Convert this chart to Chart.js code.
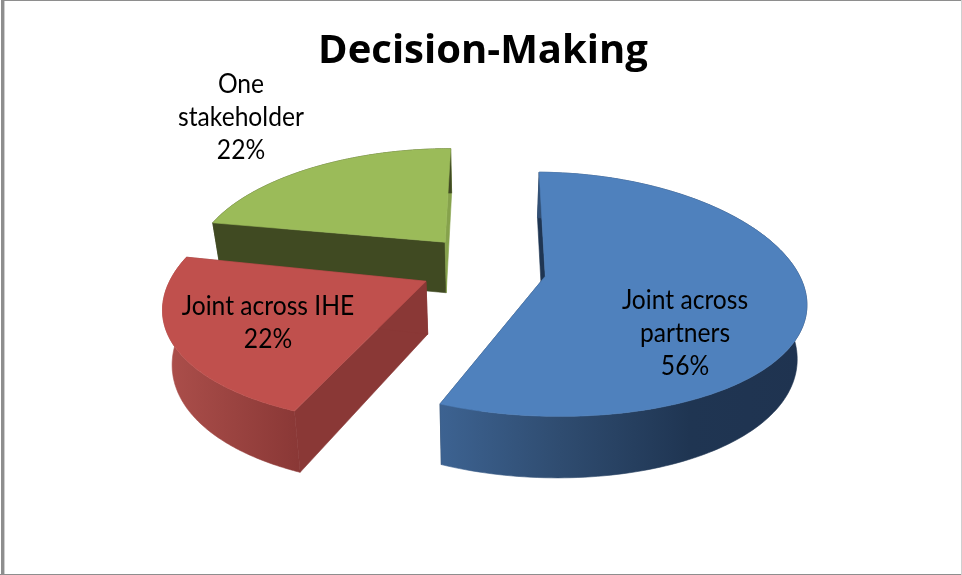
<!DOCTYPE html>
<html>
<head>
<meta charset="utf-8">
<style>
  html, body { margin: 0; padding: 0; background: #fff; }
  #wrap { width: 962px; height: 575px; }
</style>
<script src="https://cdn.jsdelivr.net/npm/chart.js@4"></script>
</head>
<body>
<div id="wrap"><canvas id="pie" width="962" height="575"></canvas></div>
<script>
// Chart content
const chartTitle = 'Decision-Making';
const categories = ['Joint across partners', 'Joint across IHE', 'One stakeholder'];
const shares = [56, 22, 22];
const labelLines = [['Joint across', 'partners'], ['Joint across IHE'], ['One', 'stakeholder']];

// Slice styling
const topColors = ['#4F81BD', '#C0504D', '#9BBB59'];
const wallStops = [
  [[438, '#3D6392'], [560, '#2F4C70'], [690, '#1F3552'], [806, '#1F3350']],
  [[165, '#AC4F4B'], [298, '#8A3836']],
  [[210, '#404A22'], [450, '#404A22']]
];
const startFaceColors = ['#1F3552', '#8A3836', '#404A22'];
const endFaceColors = ['#1F3552', '#8A3836', '#86A24C'];

// Pull-out distance and size factors of each slice, relative to the pie radius
const explode = [0.25, 0.25, 0.25];
const radiusFactor = [1, 0.995, 1.01];
const depthFactor = [0.98, 0.98, 0.93];
const verticalNudge = [3, 0, -2];
const angleNudge = [0, 0, -0.0175];
const drawOrder = [2, 0, 1];

// Projection of the pie plane onto the screen
const tilt = 120 / 252;
const perspectiveX = 0.19;
const perspectiveY = 0.15;
const thickness = 52;
const bottomShrink = 0.03;
const segments = 160;

// Text placement: centre x and middle y of the first line of each label
const labelAnchors = [[685, 301], [268, 307], [241, 85]];
const labelFont = '26.2px Lato';
const labelLineGap = 32.6;
const labelWidthScale = 0.94;

function projector(arc, i) {
  const f = arc.outerRadius;
  const mid = (arc.startAngle + arc.endAngle) / 2;
  const cu = explode[i] * Math.cos(mid);
  const cv = explode[i] * Math.sin(mid);
  return (angle, r, z) => {
    const a = angle + angleNudge[i];
    const u = cu + r * radiusFactor[i] * Math.cos(a);
    const v = cv + r * depthFactor[i] * radiusFactor[i] * Math.sin(a);
    const wx = 1 - perspectiveX * v;
    const wy = 1 - perspectiveY * v;
    return [
      arc.x + f * u / wx * (1 - bottomShrink * z),
      arc.y + verticalNudge[i] + (f * tilt * v + thickness * z) / wy
    ];
  };
}

function fillPolygon(ctx, points, fill) {
  ctx.beginPath();
  points.forEach((p, n) => (n ? ctx.lineTo(p[0], p[1]) : ctx.moveTo(p[0], p[1])));
  ctx.closePath();
  ctx.fillStyle = fill;
  ctx.strokeStyle = fill;
  ctx.lineWidth = 0.6;
  ctx.fill();
  ctx.stroke();
}

function rimPoints(project, arc, z) {
  const pts = [];
  for (let s = 0; s <= segments; s++) {
    pts.push(project(arc.startAngle + (arc.endAngle - arc.startAngle) * s / segments, 1, z));
  }
  return pts;
}

const pie3d = {
  id: 'pie3d',
  beforeDraw(chart) {
    // Thin frame around the chart
    const { ctx } = chart;
    ctx.save();
    ctx.fillStyle = '#fff';
    ctx.fillRect(0, 0, 962, 575);
    ctx.fillStyle = '#8E8E8E';
    ctx.fillRect(1, 0, 961, 1);
    ctx.fillRect(1, 0, 3, 575);
    ctx.fillRect(0, 574, 962, 1);
    ctx.fillStyle = '#CFCFCF';
    ctx.fillRect(4, 1, 1, 573);
    ctx.fillRect(961, 0, 1, 575);
    ctx.restore();
  },
  beforeDatasetDraw(chart) {
    const { ctx } = chart;
    const arcs = chart.getDatasetMeta(0).data;
    ctx.save();
    drawOrder.forEach((i) => {
      const arc = arcs[i];
      const project = projector(arc, i);
      const a0 = arc.startAngle, a1 = arc.endAngle;

      // Cut faces
      fillPolygon(ctx, [project(a0, 0, 0), project(a0, 1, 0), project(a0, 1, 1), project(a0, 0, 1)], startFaceColors[i]);
      fillPolygon(ctx, [project(a1, 0, 0), project(a1, 1, 0), project(a1, 1, 1), project(a1, 0, 1)], endFaceColors[i]);

      // Curved outer wall
      const stops = wallStops[i];
      const x0 = stops[0][0], x1 = stops[stops.length - 1][0];
      const grad = ctx.createLinearGradient(x0, 0, x1, 0);
      stops.forEach(([x, c]) => grad.addColorStop((x - x0) / (x1 - x0), c));
      fillPolygon(ctx, rimPoints(project, arc, 0).concat(rimPoints(project, arc, 1).reverse()), grad);

      // Top surface
      fillPolygon(ctx, [project(a0, 0, 0)].concat(rimPoints(project, arc, 0)), arc.options.backgroundColor);
    });
    ctx.restore();
    return false;
  },
  afterDatasetsDraw(chart) {
    const { ctx } = chart;
    ctx.save();
    ctx.font = labelFont;
    ctx.fillStyle = '#000';
    ctx.textAlign = 'center';
    ctx.textBaseline = 'middle';
    shares.forEach((value, i) => {
      const lines = labelLines[i].concat(value + '%');
      lines.forEach((line, n) => {
        ctx.save();
        ctx.translate(labelAnchors[i][0], labelAnchors[i][1] + n * labelLineGap);
        ctx.scale(labelWidthScale, 1);
        ctx.fillText(line, 0, 0);
        ctx.restore();
      });
    });
    ctx.restore();
  }
};

new Chart(document.getElementById('pie'), {
  type: 'pie',
  data: {
    labels: categories,
    datasets: [{ data: shares, backgroundColor: topColors, borderWidth: 0 }]
  },
  options: {
    responsive: false,
    animation: false,
    rotation: 1,
    radius: 252,
    layout: { padding: { left: 4, bottom: 117 } },
    plugins: {
      legend: { display: false },
      tooltip: { enabled: false },
      title: {
        display: true,
        text: chartTitle,
        color: '#000',
        font: { family: 'Open Sans', size: 40, weight: 'bold', lineHeight: 1.2 },
        padding: { top: 28, bottom: 0 }
      }
    }
  },
  plugins: [pie3d]
});
</script>
</body>
</html>
